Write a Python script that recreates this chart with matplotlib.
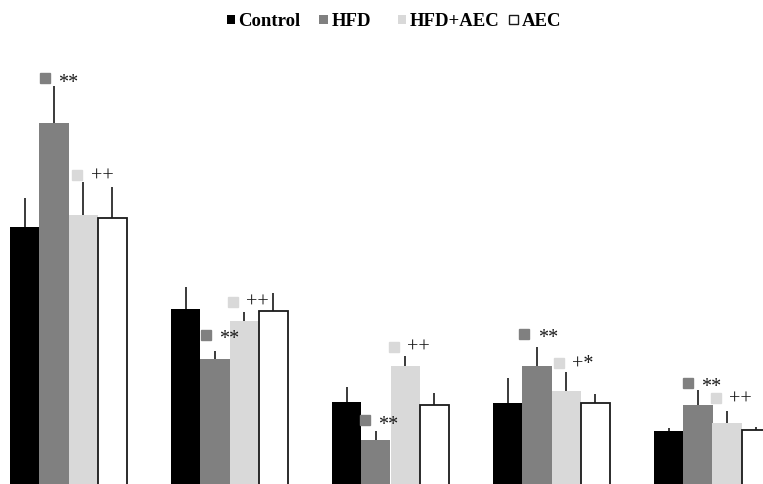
import matplotlib
matplotlib.use("Agg")
import matplotlib.pyplot as plt
from matplotlib.patches import Rectangle
from matplotlib.transforms import offset_copy
import numpy as np

# ---- data ----
groups = ["G1", "G2", "G3", "G4", "G5"]
series = ["Control", "HFD", "HFD+AEC", "AEC"]
control = [2.63, 1.81, 0.88, 0.87, 0.59]
control_err = [0.29, 0.22, 0.15, 0.25, 0.03]
hfd = [3.67, 1.31, 0.50, 1.24, 0.85]
hfd_err = [0.37, 0.08, 0.09, 0.19, 0.15]
hfd_aec = [2.75, 1.69, 1.24, 0.99, 0.67]
hfd_aec_err = [0.33, 0.09, 0.10, 0.19, 0.12]
aec = [2.72, 1.79, 0.85, 0.87, 0.60]
aec_err = [0.31, 0.18, 0.12, 0.09, 0.03]

# significance annotations: (group index, series index, marker height, label)
ann_group = [0, 0, 1, 1, 2, 2, 3, 3, 4, 4]
ann_series = [1, 2, 1, 2, 1, 2, 1, 2, 1, 2]
ann_y = [4.12, 3.15, 1.55, 1.885, 0.70, 1.435, 1.565, 1.275, 1.07, 0.92]
ann_text = ["**", "++", "**", "++", "**", "++", "**", "+*", "**", "++"]

# ---- style / layout ----
W, H, DPI = 763, 484, 100
fills = ["#000000", "#808080", "#d9d9d9", "#ffffff"]
edges = ["#000000", "#808080", "#d9d9d9", "#1a1a1a"]
ann_dx_px = [-8.9, -6.1, -8.9, -11.6, -10.9, -11.6, -12.4, -7.6, -9.9, -11.6]
baseline_drop_px = {"**": 9.5, "++": 6.5, "+*": 6.0}
group_px = 161.0
bar_w = 29.25 / group_px

fig = plt.figure(figsize=(W / DPI, H / DPI), dpi=DPI)
ax = fig.add_axes([0, 0, 1, 1])
ax.set_xlim((0 - 68.5) / group_px, (W - 68.5) / group_px)
ax.set_ylim(0.06, 4.90)
ax.axis("off")

vals = [control, hfd, hfd_aec, aec]
errs = [control_err, hfd_err, hfd_aec_err, aec_err]
x = np.arange(len(groups))
for j in range(4):
    xs = x + (j - 1.5) * bar_w
    lw = 1.3 if j == 3 else 0
    ax.bar(xs, vals[j], width=bar_w, color=fills[j], edgecolor=edges[j],
           linewidth=lw, zorder=2)
    ax.errorbar(xs, vals[j], yerr=[np.zeros(len(groups)), errs[j]],
                fmt="none", ecolor="#2b2b2b", elinewidth=1.3, capsize=0,
                zorder=1)

px = 1.0 / group_px
for g, s, yv, t, dx in zip(ann_group, ann_series, ann_y, ann_text, ann_dx_px):
    bx = g + (s - 1.5) * bar_w + dx * px
    ax.plot([bx], [yv], marker="s", markersize=6.8, color=fills[s],
            linestyle="none", zorder=3)
    tr = offset_copy(ax.transData, fig=fig, x=0,
                     y=-baseline_drop_px[t] * 72 / DPI, units="points")
    ax.text(bx + 13.5 * px, yv, t, ha="left", va="baseline", transform=tr,
            fontfamily="Liberation Serif", fontsize=14.5, color="#1a1a1a",
            zorder=3)

# legend (manually placed)
leg_sq_x = [227, 319, 398, 509]
leg_txt_x = [238, 332, 410, 522]
for j in range(4):
    r = Rectangle((leg_sq_x[j] / W, 1 - 24 / H), 8.5 / W, 9 / H,
                  transform=fig.transFigure, facecolor=fills[j],
                  edgecolor=edges[j], linewidth=1.0 if j == 3 else 0)
    fig.add_artist(r)
    fig.text(leg_txt_x[j] / W, 1 - 25.5 / H, series[j], ha="left",
             va="baseline", fontfamily="Liberation Serif", fontweight="bold",
             fontsize=13.5, color="#000000")

fig.savefig("out.png", dpi=DPI)
